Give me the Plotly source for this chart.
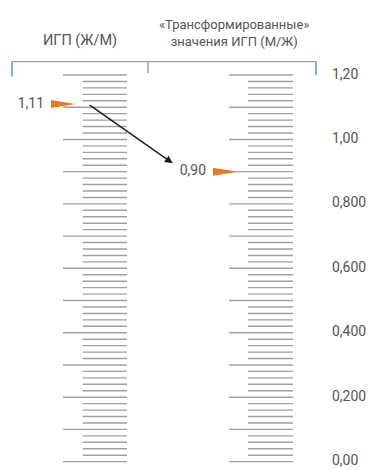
import plotly.graph_objects as go

# ---- data ----
scale_max = 1.20
major_ticks = [0.0, 0.1, 0.2, 0.3, 0.4, 0.5, 0.6, 0.7, 0.8, 0.9, 1.0, 1.1, 1.2]
minor_step = 0.02
right_label_values = [1.20, 1.00, 0.80, 0.60, 0.40, 0.20, 0.00]
right_label_texts = ["1,20", "1,00", "0,800", "0,600", "0,400", "0,200", "0,00"]
titles = ["ИГП (Ж/М)", "«Трансформированные»<br>значения ИГП (М/Ж)"]
marker_values = [1.11, 0.90]
marker_texts = ["1,11", "0,90"]
arrow_end_value = 0.926

# minor ticks (every 0.02, excluding majors)
minor_ticks = []
k = 0
while k * minor_step <= scale_max + 1e-9:
    v = round(k * minor_step, 2)
    if all(abs(v - m) > 1e-6 for m in major_ticks):
        minor_ticks.append(v)
    k += 1

FONT = "Roboto, sans-serif"
GREY = "#a0a0a0"
TEXT = "#555555"
ORANGE = "#e8791e"
BLUE = "#4a9fc8"

# scales: (major x0, minor x0, x1)
scales = [(63, 82.7, 127), (229, 248, 293)]
px_per_unit = 322.2
Y_PX_1_2 = 75  # pixel row of 1.20

fig = go.Figure()
for (xmaj, xmin, x1) in scales:
    xs, ys = [], []
    for v in major_ticks:
        xs += [xmaj, x1, None]; ys += [v, v, None]
    for v in minor_ticks:
        xs += [xmin, x1, None]; ys += [v, v, None]
    fig.add_trace(go.Scatter(x=xs, y=ys, mode="lines",
                             line=dict(color=GREY, width=1.4),
                             hoverinfo="skip", showlegend=False))

# orange triangles
tri_x = [(51, 75), (213, 237.5)]
h = 4 / px_per_unit
for (xb, xt), v in zip(tri_x, marker_values):
    fig.add_trace(go.Scatter(x=[xb, xt, xb, xb], y=[v + h, v, v - h, v + h],
                             mode="lines", fill="toself", fillcolor=ORANGE,
                             line=dict(color=ORANGE, width=0),
                             hoverinfo="skip", showlegend=False))

# marker labels
fig.add_trace(go.Scatter(x=[44, 206], y=marker_values, mode="text",
                         text=marker_texts, textposition="middle left",
                         textfont=dict(family=FONT, size=14, color=TEXT),
                         cliponaxis=False, hoverinfo="skip", showlegend=False))

# right scale labels
fig.add_trace(go.Scatter(x=[332] * len(right_label_values), y=right_label_values,
                         mode="text", text=right_label_texts,
                         textposition="middle right",
                         textfont=dict(family=FONT, size=14, color=TEXT),
                         cliponaxis=False, hoverinfo="skip", showlegend=False))

# bracket
y_top = scale_max + 13.3 / px_per_unit
fig.add_shape(type="line", x0=12, x1=316, y0=y_top, y1=y_top,
              line=dict(color=GREY, width=1.3))
for xb, col, yb in [(12, BLUE, scale_max - 1.5 / px_per_unit),
                    (316, BLUE, scale_max),
                    (148, GREY, scale_max + 2 / px_per_unit)]:
    fig.add_shape(type="line", x0=xb, x1=xb, y0=y_top, y1=yb,
                  line=dict(color=col, width=1.5))

# arrow
fig.add_annotation(x=172.7, y=arrow_end_value, ax=88.3, ay=marker_values[0],
                   xref="x", yref="y", axref="x", ayref="y",
                   showarrow=True, arrowhead=2, arrowsize=1.1, arrowwidth=1.4,
                   arrowcolor="#1a1a1a", text="")

# titles
fig.add_annotation(x=80, y=scale_max + 35 / px_per_unit, xref="x", yref="y",
                   text=titles[0], showarrow=False,
                   font=dict(family=FONT, size=14.5, color=TEXT))
fig.add_annotation(x=234, y=scale_max + 42 / px_per_unit, xref="x", yref="y",
                   text=titles[1], showarrow=False,
                   font=dict(family=FONT, size=13, color=TEXT))

y_hi = scale_max + Y_PX_1_2 / px_per_unit
y_lo = scale_max - (469 - Y_PX_1_2) / px_per_unit
fig.update_layout(width=370, height=469, margin=dict(l=0, r=0, t=0, b=0),
                  paper_bgcolor="white", plot_bgcolor="white",
                  xaxis=dict(range=[0, 370], visible=False, fixedrange=True),
                  yaxis=dict(range=[y_lo, y_hi], visible=False, fixedrange=True),
                  showlegend=False)
fig.write_html("out.html", config={"displayModeBar": False},
               post_script="document.body.style.margin='0';"
                           "document.body.style.overflow='hidden';")
